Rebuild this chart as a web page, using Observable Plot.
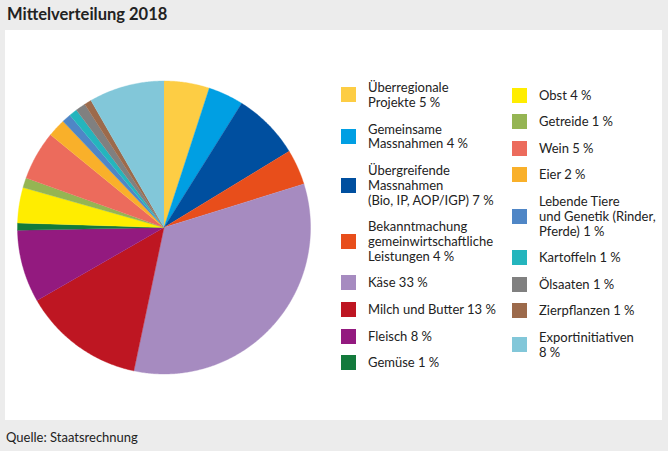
<!DOCTYPE html>
<html><head><meta charset="utf-8">
<script src="https://cdn.jsdelivr.net/npm/d3@7"></script>
<script src="https://cdn.jsdelivr.net/npm/@observablehq/plot@0.6"></script>
<style>
body{margin:0;background:#ececec;width:668px;height:451px;overflow:hidden;font-family:Lato,"Open Sans",sans-serif;color:#222;}
#title{position:absolute;left:7px;top:4px;font-size:16.5px;font-weight:bold;}
#panel{position:absolute;left:5px;top:30px;width:657px;height:390px;background:#fff;}
#chart{position:absolute;left:0;top:0;}
#source{position:absolute;left:6px;top:429px;font-size:13px;}
.item{position:absolute;display:flex;align-items:center;font-size:13px;line-height:14.8px;}
.sw{width:15px;height:15px;margin-right:12px;flex:none;}
</style></head>
<body>
<div id="title">Mittelverteilung 2018</div>
<div id="panel"><div id="chart"></div><div id="legend"></div></div>
<div id="source">Quelle: Staatsrechnung</div>
<script>
const names = ["Überregionale Projekte","Gemeinsame Massnahmen","Übergreifende Massnahmen","Bekanntmachung gemeinwirtschaftliche Leistungen","Käse","Milch und Butter","Fleisch","Gemüse","Obst","Getreide","Wein","Eier","Lebende Tiere und Genetik","Kartoffeln","Ölsaaten","Zierpflanzen","Exportinitiativen"];
const values = [5.0,3.9,7.4,3.9,33.1,13.4,8.0,0.8,3.9,1.1,5.4,2.0,1.0,0.9,1.1,0.8,8.3];
const colors = ["#fdcd44","#009fe3","#004f9f","#e84e1b","#a68bc0","#be1622","#931a7f","#137a3c","#ffed00","#95b553","#ec6b5c","#f9b02a","#4f86c6","#24b5bd","#808080","#9c6a4b","#82c7d9"];
const legendText = [
 ["Überregionale","Projekte 5\u202F%"],
 ["Gemeinsame","Massnahmen 4\u202F%"],
 ["Übergreifende","Massnahmen","(Bio, IP, AOP/IGP) 7\u202F%"],
 ["Bekanntmachung","gemeinwirtschaftliche","Leistungen 4\u202F%"],
 ["Käse 33\u202F%"],
 ["Milch und Butter 13\u202F%"],
 ["Fleisch 8\u202F%"],
 ["Gemüse 1\u202F%"],
 ["Obst 4\u202F%"],
 ["Getreide 1\u202F%"],
 ["Wein 5\u202F%"],
 ["Eier 2\u202F%"],
 ["Lebende Tiere","und Genetik (Rinder,","Pferde) 1\u202F%"],
 ["Kartoffeln 1\u202F%"],
 ["Ölsaaten 1\u202F%"],
 ["Zierpflanzen 1\u202F%"],
 ["Exportinitiativen","8\u202F%"]
];

// build wedge outlines from pie angles
const arcs = d3.pie().sort(null).value(d => d)(values);
const pts = [];
arcs.forEach((a, i) => {
  const n = names[i];
  pts.push({name: n, x: 0, y: 0});
  const steps = Math.max(2, Math.ceil((a.endAngle - a.startAngle) / (Math.PI/360)));
  for (let s = 0; s <= steps; s++) {
    const t = a.startAngle + (a.endAngle - a.startAngle) * s / steps;
    pts.push({name: n, x: Math.sin(t), y: Math.cos(t)});
  }
});

const chart = Plot.plot({
  width: 330, height: 390,
  margin: 0,
  x: {domain: [-1, 1], range: [12, 305], axis: null},
  y: {domain: [-1, 1], range: [343.5, 50.5], axis: null},
  color: {domain: names, range: colors},
  marks: [
    Plot.line(pts, {x: "x", y: "y", z: "name", fill: "name", stroke: "name", strokeWidth: 0.4, curve: "linear"})
  ]
});
document.getElementById("chart").appendChild(chart);

// legend
const LH = 14.8, GAP = 11.8;
const leg = document.getElementById("legend");
const cols = [{x: 336, y0: 50.2, items: [0,1,2,3,4,5,6,7]}, {x: 507, y0: 57.6, items: [8,9,10,11,12,13,14,15,16]}];
cols.forEach(c => {
  let y = c.y0;
  c.items.forEach(i => {
    const d = document.createElement("div");
    d.className = "item";
    d.style.left = c.x + "px";
    d.style.top = y + "px";
    const sw = document.createElement("div");
    sw.className = "sw";
    sw.style.background = colors[i];
    const tx = document.createElement("div");
    tx.innerHTML = legendText[i].join("<br>");
    d.appendChild(sw); d.appendChild(tx);
    leg.appendChild(d);
    y += legendText[i].length * LH + GAP;
  });
});
</script>
</body></html>
